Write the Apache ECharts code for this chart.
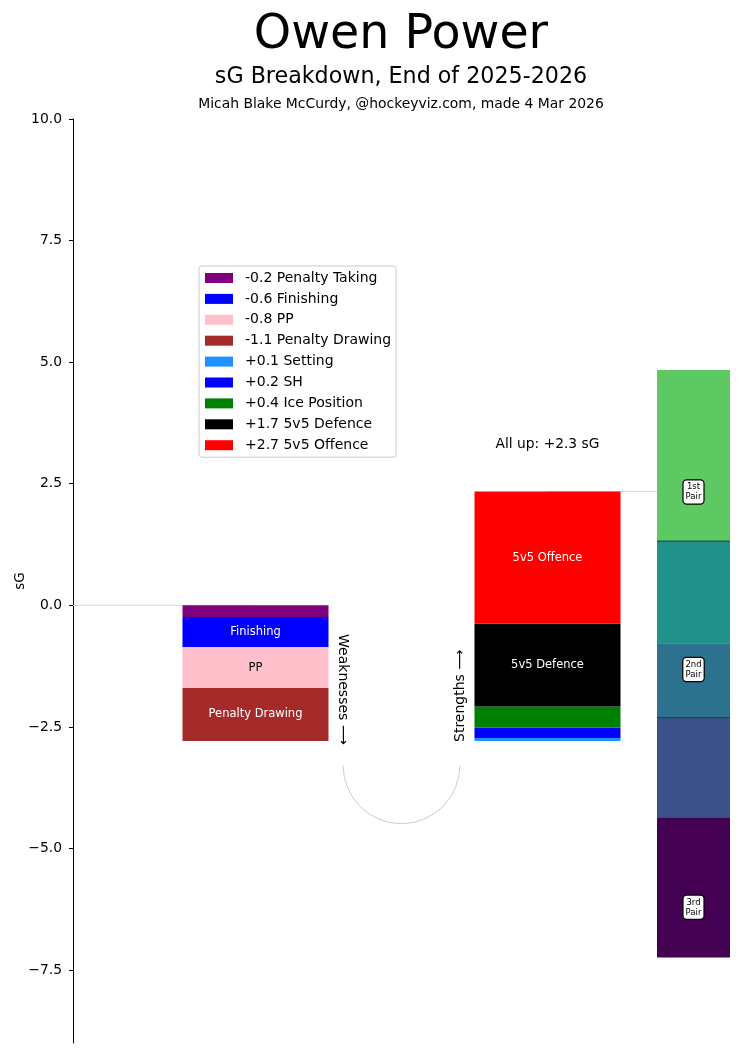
<!DOCTYPE html>
<html><head><meta charset="utf-8">
<script src="https://cdn.jsdelivr.net/npm/echarts@6/dist/echarts.min.js"></script>
<style>html,body{margin:0;padding:0;background:#fff}#c{width:739px;height:1053px}</style>
</head><body><div id="c"></div>
<script>
const weakNames = ['Penalty Taking', 'Finishing', 'PP', 'Penalty Drawing'];
const weakValues = [-0.24, -0.62, -0.84, -1.09];
const weakColors = ['#800080', '#0000ff', '#ffc0cb', '#a52a2a'];
const weakLabelColors = ['#fff', '#fff', '#000', '#fff'];
const strNames = ['Setting', 'SH', 'Ice Position', '5v5 Defence', '5v5 Offence'];
const strValues = [0.06, 0.22, 0.43, 1.70, 2.72];
const strColors = ['#1e90ff', '#0000ff', '#008000', '#000000', '#ff0000'];
const strLabelColors = ['#fff', '#fff', '#fff', '#fff', '#fff'];
const pairBounds = [4.84, 1.32, -0.78, -2.31, -4.36, -7.24];
const pairColors = ['#5ec962', '#21918c', '#2c728e', '#3b528b', '#440154'];
const pairDividers = [1.32, -2.31];
const pairLabels = ['1st\nPair', '2nd\nPair', '3rd\nPair'];
const pairLabelValues = [2.33, -1.32, -6.21];
const yTicks = [-7.5, -5, -2.5, 0, 2.5, 5, 7.5, 10];

const FONT = '"DejaVu Sans", sans-serif';
const X_WEAK = 0, X_STR = 2, X_PAIR = 3;
const fmt1 = v => (v < 0 ? '-' : '+') + Math.abs(v).toFixed(1);

const chart = echarts.init(document.getElementById('c'), null, {renderer: 'canvas'});
const series = [];
const legendNames = [];

function segSeries(name, x, y0, y1, color, label, labelColor) {
  return {
    type: 'custom', name, silent: true, z: 3,
    itemStyle: {color},
    data: [[x, y0, y1]],
    renderItem: (params, api) => {
      const a = api.coord([api.value(0) - 0.5, api.value(1)]);
      const b = api.coord([api.value(0) + 0.5, api.value(2)]);
      const ch = [{type: 'rect', shape: {x: a[0], y: Math.min(a[1], b[1]), width: b[0] - a[0], height: Math.abs(b[1] - a[1])}, style: {fill: color}}];
      if (label) ch.push({type: 'text', x: (a[0] + b[0]) / 2, y: (a[1] + b[1]) / 2,
        style: {text: label, fill: labelColor, fontSize: 11.5, fontFamily: FONT, align: 'center', verticalAlign: 'middle'}});
      return {type: 'group', children: ch};
    }
  };
}

// weaknesses: stacked downward from 0
let cur = 0;
weakNames.forEach((n, i) => {
  const v = weakValues[i];
  const nm = fmt1(v) + ' ' + n;
  legendNames.push(nm);
  series.push(segSeries(nm, X_WEAK, cur, cur + v, weakColors[i], Math.abs(v) >= 0.5 ? n : null, weakLabelColors[i]));
  cur += v;
});
const weakBottom = cur;
// strengths: stacked upward from the bottom of weaknesses
strNames.forEach((n, i) => {
  const v = strValues[i];
  const nm = fmt1(v) + ' ' + n;
  legendNames.push(nm);
  series.push(segSeries(nm, X_STR, cur, cur + v, strColors[i], Math.abs(v) >= 0.5 ? n : null, strLabelColors[i]));
  cur += v;
});
const total = cur;

// connector lines
series.push({type: 'line', silent: true, symbol: 'none', z: 1, lineStyle: {color: '#d9d9d9', width: 1}, data: [[-1.25, 0], [X_WEAK, 0]]});
series.push({type: 'line', silent: true, symbol: 'none', z: 1, lineStyle: {color: '#d9d9d9', width: 1}, data: [[X_STR, total], [X_PAIR, total]]});

// pair tiers
series.push({
  type: 'custom', silent: true, z: 3,
  data: pairColors.map((c, i) => [X_PAIR, pairBounds[i], pairBounds[i + 1], i]),
  renderItem: (params, api) => {
    const a = api.coord([api.value(0) - 0.25, api.value(1)]);
    const b = api.coord([api.value(0) + 0.25, api.value(2)]);
    return {type: 'rect', shape: {x: a[0], y: a[1], width: b[0] - a[0], height: b[1] - a[1]}, style: {fill: pairColors[api.value(3)]}};
  }
});
series.push({
  type: 'custom', silent: true, z: 4,
  data: pairDividers.map(v => [X_PAIR, v]),
  renderItem: (params, api) => {
    const a = api.coord([api.value(0) - 0.25, api.value(1)]);
    const b = api.coord([api.value(0) + 0.25, api.value(1)]);
    return {type: 'line', shape: {x1: a[0], y1: a[1], x2: b[0], y2: b[1]}, style: {stroke: '#1b3a48', lineWidth: 1}};
  }
});
series.push({
  type: 'custom', silent: true, z: 5,
  data: pairLabels.map((l, i) => [X_PAIR, pairLabelValues[i], i]),
  renderItem: (params, api) => {
    const p = api.coord([api.value(0), api.value(1)]);
    return {type: 'text', x: p[0], y: p[1], style: {text: pairLabels[api.value(2)], fill: '#000', fontSize: 8.5, lineHeight: 10,
      fontFamily: FONT, align: 'center', verticalAlign: 'middle', backgroundColor: '#fff', borderColor: '#000', borderWidth: 1.2,
      borderRadius: 3, padding: [2, 2, 1, 2]}};
  }
});

// arc + annotations
series.push({
  type: 'custom', silent: true, z: 2,
  data: [[(X_WEAK + X_STR) / 2, weakBottom - 0.5]],
  renderItem: (params, api) => {
    const c = api.coord([api.value(0), api.value(1)]);
    const r = api.size([0.4, 0])[0];
    return {type: 'arc', shape: {cx: c[0], cy: c[1], r, startAngle: 0, endAngle: Math.PI, clockwise: true},
      style: {stroke: '#cccccc', lineWidth: 1, fill: null}};
  }
});
series.push({
  type: 'custom', silent: true, z: 5,
  data: [[0]],
  renderItem: (params, api) => {
    const w = api.coord([X_WEAK + 0.6, weakBottom - 0.08]);
    const s = api.coord([X_STR - 0.6, weakBottom - 0.02]);
    const t = api.coord([X_STR, total + 0.97]);
    return {type: 'group', children: [
      {type: 'text', x: w[0], y: w[1], rotation: -Math.PI / 2,
        style: {text: 'Weaknesses \u27f6', fill: '#000', fontSize: 14, fontFamily: FONT, align: 'right', verticalAlign: 'middle'}},
      {type: 'text', x: s[0], y: s[1], rotation: Math.PI / 2,
        style: {text: 'Strengths \u27f6', fill: '#000', fontSize: 14, fontFamily: FONT, align: 'left', verticalAlign: 'middle'}},
      {type: 'text', x: t[0], y: t[1],
        style: {text: 'All up: ' + fmt1(total) + ' sG', fill: '#000', fontSize: 13.8, fontFamily: FONT, align: 'center', verticalAlign: 'middle'}}
    ]};
  }
});

chart.setOption({
  animation: false,
  textStyle: {fontFamily: FONT},
  title: [
    {text: 'Owen Power', left: 396, textAlign: 'center', top: 6, textStyle: {fontSize: 47.5, fontWeight: 'normal', color: '#000', fontFamily: FONT, lineHeight: 50}},
    {text: 'sG Breakdown, End of 2025-2026', left: 396, textAlign: 'center', top: 59, textStyle: {fontSize: 22.2, fontWeight: 'normal', color: '#000', fontFamily: FONT, lineHeight: 26}},
    {text: 'Micah Blake McCurdy, @hockeyviz.com, made 4 Mar 2026', left: 396, textAlign: 'center', top: 91, textStyle: {fontSize: 13.9, fontWeight: 'normal', color: '#000', fontFamily: FONT, lineHeight: 16}}
  ],
  grid: {left: 73, right: 9, top: 119, bottom: 10, containLabel: false, outerBoundsMode: 'none'},
  legend: {
    data: legendNames, orient: 'vertical', left: 199, top: 266,
    icon: 'rect', itemWidth: 28, itemHeight: 10, itemGap: 6.9,
    padding: [5, 5, 5, 6], borderColor: '#cccccc', borderWidth: 1, borderRadius: 3, backgroundColor: '#fff',
    selectedMode: false,
    textStyle: {fontSize: 14, lineHeight: 14, color: '#000', fontFamily: FONT, padding: [0, 0, 0, 7]}
  },
  xAxis: {type: 'value', min: -1.25, max: 3.25, show: false},
  yAxis: {
    type: 'value', min: -9, max: 10,
    name: 'sG', nameLocation: 'middle', nameGap: 46, nameRotate: 90, nameMoveOverlap: false,
    nameTextStyle: {fontSize: 13.5, color: '#000', fontFamily: FONT},
    splitLine: {show: false},
    axisLine: {show: true, onZero: false, lineStyle: {color: '#000', width: 1}},
    axisTick: {show: true, customValues: yTicks, length: 4, lineStyle: {color: '#000'}},
    axisLabel: {customValues: yTicks, color: '#000', fontSize: 13.9, fontFamily: FONT, margin: 11,
      formatter: v => (v < 0 ? '\u2212' : '') + Math.abs(v).toFixed(1)}
  },
  series
});
</script></body></html>
